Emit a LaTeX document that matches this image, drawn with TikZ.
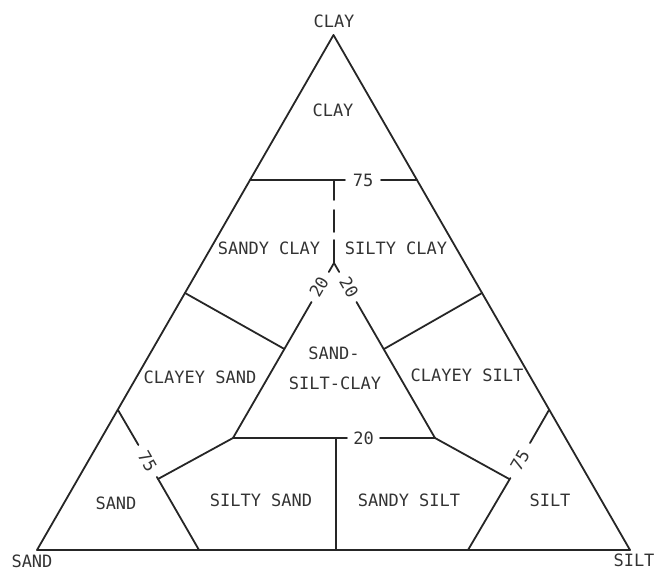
\documentclass[tikz,border=0pt]{standalone}
\usepackage{fontspec}
\newfontfamily\plotfont{DejaVu Sans Mono}
\begin{document}
\begin{tikzpicture}[x=1pt,y=-1pt,
  edge/.style={line width=1.8pt,draw=black!85,line cap=round,line join=round},
  lab/.style={font=\plotfont\fontsize{17}{18}\selectfont,text=black!80,inner sep=0pt},
  num/.style={lab}]
\useasboundingbox (0,0) rectangle (654,570);
% corners
\coordinate (A) at (333.5,35);
\coordinate (B) at (37,550);
\coordinate (C) at (630,550);
\draw[edge] (A) -- (B) -- (C) -- cycle;
% clay 75 line
\coordinate (c75l) at (250,180);
\coordinate (c75r) at (417,180);
\coordinate (c75g1) at (345,180);
\coordinate (c75g2) at (381,180);
\draw[edge] (c75l) -- (c75g1);
\draw[edge] (c75g2) -- (c75r);
\node[num] (n75top) at (363,180) {75};
% vertical dashed line
\coordinate (v0) at (334,180);
\coordinate (v1) at (334,200);
\coordinate (v2) at (334,210);
\coordinate (v3) at (334,232);
\coordinate (v4) at (334,240);
\coordinate (I) at (334,263);
\draw[edge] (v0) -- (v1);
\draw[edge] (v2) -- (v3);
\draw[edge] (v4) -- (I);
% inner triangle
\coordinate (IL) at (233,438);
\coordinate (IR) at (435,438);
\coordinate (ila) at (328.8,272);
\coordinate (ilb) at (311.5,302);
\coordinate (ira) at (339.2,272);
\coordinate (irb) at (356.5,302);
\draw[edge] (ila) -- (I) -- (ira);
\draw[edge] (ilb) -- (IL);
\draw[edge] (irb) -- (IR);
\node[num,rotate=60] (n20l) at (319,287) {20};
\node[num,rotate=-60] (n20r) at (349,287) {20};
% inner bottom 20 line
\coordinate (b20a) at (347,438);
\coordinate (b20b) at (380,438);
\draw[edge] (IL) -- (b20a);
\draw[edge] (b20b) -- (IR);
\node[num] (n20b) at (363.5,438) {20};
\coordinate (vb) at (336,438);
\coordinate (vbb) at (336,550);
\draw[edge] (vb) -- (vbb);
% side junction lines
\coordinate (Lj) at (185,293);
\coordinate (Lji) at (284.4,349);
\coordinate (Rj) at (482,293);
\coordinate (Rji) at (384,349);
\draw[edge] (Lj) -- (Lji);
\draw[edge] (Rj) -- (Rji);
% sand 75 line
\coordinate (s1) at (118,410);
\coordinate (s2) at (138.4,445);
\coordinate (s3) at (156.9,477);
\coordinate (J1) at (158,479);
\coordinate (s4) at (199,550);
\draw[edge] (s1) -- (s2);
\draw[edge] (s3) -- (s4);
\node[num,rotate=-60] (n75l) at (147.5,461) {75};
\draw[edge] (J1) -- (IL);
% silt 75 line
\coordinate (t1) at (549,410);
\coordinate (t2) at (530,443);
\coordinate (t3) at (510.4,478);
\coordinate (J2) at (509.2,479);
\coordinate (t4) at (468,550);
\draw[edge] (t1) -- (t2);
\draw[edge] (t3) -- (t4);
\node[num,rotate=60] (n75r) at (520,460.5) {75};
\draw[edge] (J2) -- (IR);
% labels
\node[lab] (tclay) at (334,21.5) {CLAY};
\node[lab] (tsand) at (32,561) {SAND};
\node[lab] (tsilt) at (634,560) {SILT};
\node[lab] (rclay) at (333,110) {CLAY};
\node[lab] (rsandyclay) at (269,248) {SANDY CLAY};
\node[lab] (rsiltyclay) at (396,248) {SILTY CLAY};
\node[lab] (rssc1) at (334,353) {SAND-};
\node[lab] (rssc2) at (335,383) {SILT-CLAY};
\node[lab] (rclayeysand) at (200,377) {CLAYEY SAND};
\node[lab] (rclayeysilt) at (467,375) {CLAYEY SILT};
\node[lab] (rsand) at (116,503) {SAND};
\node[lab] (rsiltysand) at (261,500) {SILTY SAND};
\node[lab] (rsandysilt) at (409,500) {SANDY SILT};
\node[lab] (rsilt) at (550,500) {SILT};
\end{tikzpicture}
\end{document}
